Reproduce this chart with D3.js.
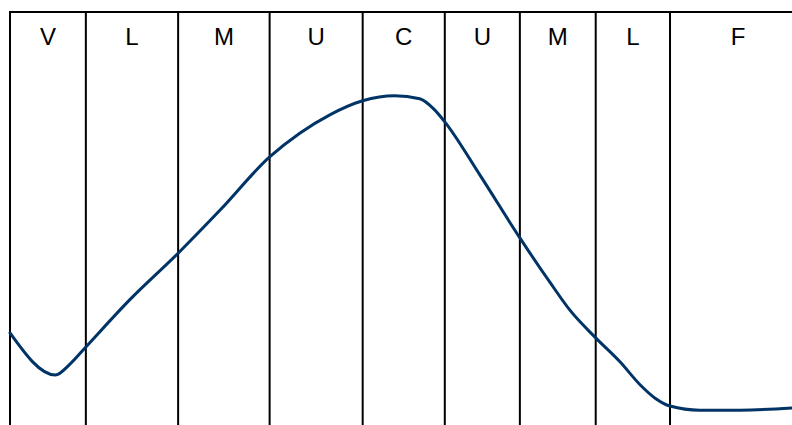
<!DOCTYPE html>
<html>
<head>
<meta charset="utf-8">
<script src="https://cdn.jsdelivr.net/npm/d3@7"></script>
<style>
  body { margin: 0; background: #fff; }
  svg { display: block; }
</style>
</head>
<body>
<svg id="chart" width="792" height="425"></svg>
<script>
// zone labels and their boundaries (position 0-100 across the chart)
const zones = ["V", "L", "M", "U", "C", "U", "M", "L", "F"];
const bounds = [0, 9.7, 21.5, 33.2, 45.1, 55.6, 65.2, 74.9, 84.4, 101.8];

// curve values
const curveX = [0, 5.8, 7.7, 9.7, 15.3, 21.5, 26.9, 33.2, 37.1, 40.9, 45.1, 49.2, 52.4, 54.3, 55.6,
                60.1, 65.2, 69.1, 71.6, 74.9, 78.0, 80.6, 82.5, 84.4, 88.2, 93.4, 100];
const curveY = [22.3, 12.1, 14.8, 18.9, 30.3, 41.6, 52.1, 64.9, 70.7, 75.1, 78.5, 79.7, 79.0, 76.3, 73.4,
                60.5, 45.3, 34.4, 27.8, 21.1, 15.3, 9.7, 6.5, 4.6, 3.6, 3.6, 4.1];

const svg = d3.select("#chart");
const width = 792, height = 425;

const x = d3.scaleLinear().domain([0, 100]).range([10, 792]);
const y = d3.scaleLinear().domain([0, 100]).range([425, 12]);

// top border
svg.append("line")
    .attr("x1", x(0) - 1).attr("x2", width)
    .attr("y1", 12).attr("y2", 12)
    .attr("stroke", "#000").attr("stroke-width", 2);

// zone dividers
svg.selectAll(".divider")
    .data(bounds.slice(0, -1))
    .enter().append("line")
    .attr("class", "divider")
    .attr("x1", d => x(d)).attr("x2", d => x(d))
    .attr("y1", 12).attr("y2", height)
    .attr("stroke", "#000").attr("stroke-width", 2);

// zone labels
svg.selectAll(".zone")
    .data(zones)
    .enter().append("text")
    .attr("class", "zone")
    .attr("x", (d, i) => x((bounds[i] + bounds[i + 1]) / 2))
    .attr("y", 45)
    .attr("text-anchor", "middle")
    .attr("font-family", "Liberation Sans, Arial, sans-serif")
    .attr("font-size", 24)
    .attr("fill", "#000")
    .text(d => d);

const pts = curveX.map((v, i) => [v, curveY[i]]);

const line = d3.line()
    .x(d => x(d[0]))
    .y(d => y(d[1]))
    .curve(d3.curveMonotoneX);

svg.append("path")
    .datum(pts)
    .attr("d", line)
    .attr("fill", "none")
    .attr("stroke", "#003366")
    .attr("stroke-width", 3)
    .attr("stroke-linecap", "round");
</script>
</body>
</html>
